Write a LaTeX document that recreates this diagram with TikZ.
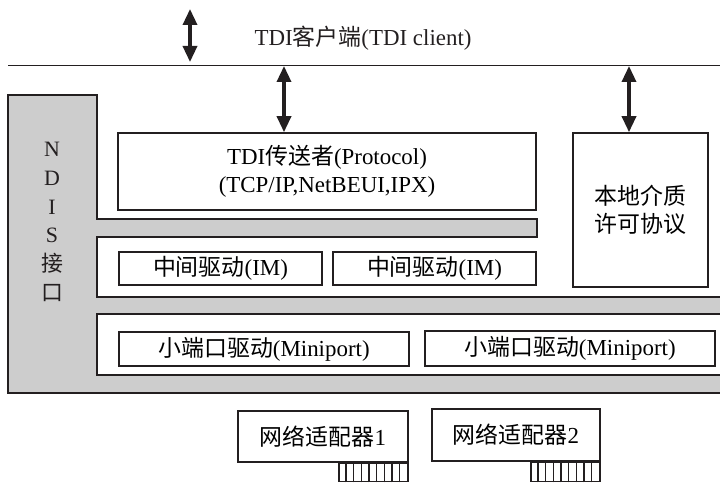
\documentclass[tikz,border=0pt]{standalone}
\usepackage{fontspec}
\setmainfont{Liberation Serif}
\newfontfamily\cjk{Noto Sans CJK SC}
\newcommand\zh[1]{{\cjk #1}}
\usetikzlibrary{arrows.meta}
\definecolor{ink}{HTML}{231F20}
\definecolor{ndisgray}{HTML}{CDCDCD}
\tikzset{
  box/.style={draw=ink, line width=1.6bp, fill=white, inner sep=0pt, align=center,
              font=\fontsize{23}{28}\selectfont},
  portbox/.style={draw=ink, line width=1.5bp, fill=white, inner sep=0pt},
  dblarrow/.style={draw=ink, line width=3.4bp,
                   {Triangle[length=16bp,width=14bp]}-{Triangle[length=16bp,width=14bp]}},
  label/.style={inner sep=0pt, align=center, text=ink, font=\fontsize{23}{28}\selectfont}
}
\begin{document}
\begin{tikzpicture}[x=1bp,y=-1bp]
\useasboundingbox (0,0) rectangle (720,485);
\clip (0,0) rectangle (720,485);

% TDI client bus
\coordinate (busL) at (8,65.5);
\coordinate (busR) at (730,65.5);
\draw[ink, line width=1.8bp] (busL) -- (busR);
\node[label] (client) at (363,38) {TDI\zh{客户端}(TDI client)};

% NDIS interface frame (gray, with white bays cut into it)
\draw[ink, line width=1.6bp, fill=ndisgray]
  (8,95) -- (97,95) -- (97,219) -- (537,219) -- (537,237) -- (97,237)
  -- (97,297) -- (730,297) -- (730,314) -- (97,314) -- (97,375)
  -- (730,375) -- (730,393) -- (8,393) -- cycle;
\node[label, font=\fontsize{22}{28.8}\selectfont] (ndis) at (52,222)
  {N\\D\\I\\S\\\zh{接}\\\zh{口}};

% protocol layer
\node[box, minimum width=418bp, minimum height=77bp] (tdi) at (327,171.5)
  {TDI\zh{传送者}(Protocol)\\(TCP/IP,NetBEUI,IPX)};
\node[box, minimum width=135bp, minimum height=154bp] (local) at (640.5,210)
  {\zh{本地介质}\\\zh{许可协议}};

% intermediate drivers
\node[box, minimum width=203bp, minimum height=33bp] (im1) at (220.5,268.5)
  {\zh{中间驱动}(IM)};
\node[box, minimum width=203bp, minimum height=33bp] (im2) at (434.5,268.5)
  {\zh{中间驱动}(IM)};

% miniport drivers
\node[box, minimum width=290bp, minimum height=34bp] (mp1) at (264,349)
  {\zh{小端口驱动}(Miniport)};
\node[box, minimum width=290bp, minimum height=35bp] (mp2) at (570,348.5)
  {\zh{小端口驱动}(Miniport)};

% network adapters with edge connectors
\node[box, minimum width=170bp, minimum height=51bp] (nic1) at (323,436.5)
  {\zh{网络适配器}1};
\node[portbox, minimum width=69bp, minimum height=18bp, anchor=north east]
  (port1) at (nic1.south east) {};
\node[box, minimum width=168bp, minimum height=52bp] (nic2) at (516,435)
  {\zh{网络适配器}2};
\node[portbox, minimum width=69bp, minimum height=19bp, anchor=north east]
  (port2) at (nic2.south east) {};
\foreach \p in {port1,port2}
  \foreach \i in {1,...,8}
    \draw[ink, line width=1.3bp]
      ([xshift=\i*7.667bp]\p.south west) -- ([xshift=\i*7.667bp]\p.north west);

% arrows
\coordinate (a1top) at (190,9);
\coordinate (a1bot) at (190,62);
\draw[dblarrow] (a1top) -- (a1bot);
\coordinate (a2top) at (284,66);
\draw[dblarrow] (a2top) -- (a2top |- tdi.north);
\coordinate (a3top) at (629,66);
\draw[dblarrow] (a3top) -- (a3top |- local.north);
\end{tikzpicture}
\end{document}
